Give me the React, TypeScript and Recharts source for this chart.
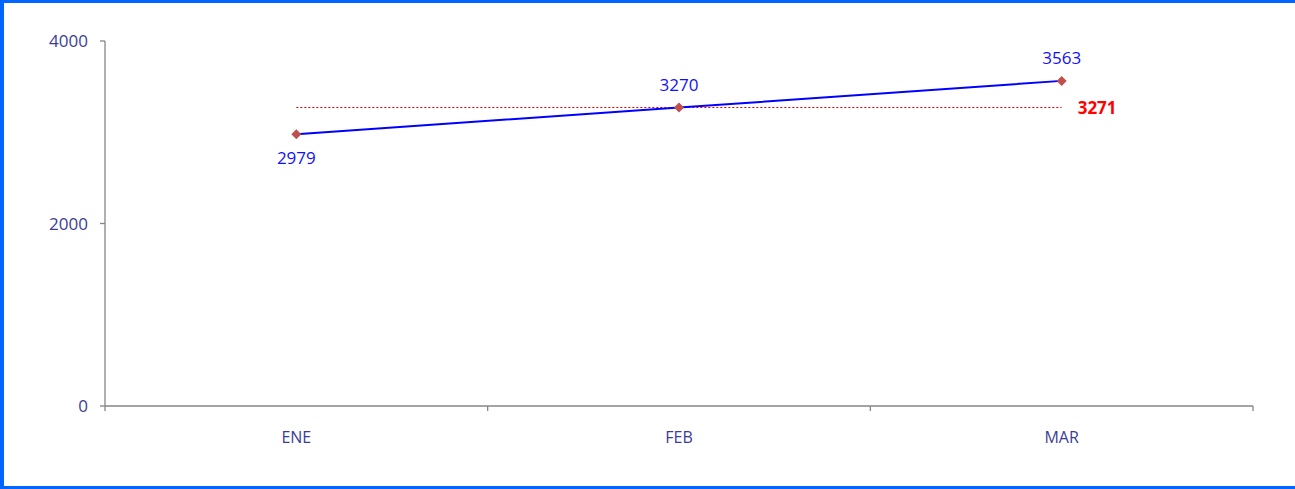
import { LineChart, Line, XAxis, YAxis, ReferenceLine, LabelList } from 'recharts';

const meses = ['ENE', 'FEB', 'MAR'];
const ventas = [2979, 3270, 3563];
const promedio = 3271;
const yTicks = [0, 2000, 4000];

const data = meses.map((m, i) => ({ mes: m, valor: ventas[i] }));

const FONT = '"Open Sans", sans-serif';
const AXIS = '#868686';

function Diamond(props: any) {
  const { cx, cy } = props;
  if (cx == null || cy == null) return null;
  const r = 5;
  return (
    <polygon
      points={`${cx},${cy - r} ${cx + r},${cy} ${cx},${cy + r} ${cx - r},${cy}`}
      fill="#c0504d"
    />
  );
}

function ValueLabel(props: any) {
  const { x, y, value, index } = props;
  const below = index === 0;
  return (
    <text
      x={x}
      y={below ? y + 23 : y - 23}
      textAnchor="middle"
      dominantBaseline="central"
      fill="#1010ff"
      fontSize={17}
      fontFamily={FONT}
    >
      {value}
    </text>
  );
}

// etiqueta de mes centrada + marcas en los limites de cada categoria
function MesTick(props: any) {
  const { x, y, payload, index, visibleTicksCount } = props;
  const half = payload.offset || 0;
  const last = index === visibleTicksCount - 1;
  return (
    <g>
      <line x1={x - half} x2={x - half} y1={y} y2={y + 5} stroke={AXIS} strokeWidth={1.3} />
      {last && <line x1={x + half} x2={x + half} y1={y} y2={y + 5} stroke={AXIS} strokeWidth={1.3} />}
      <text
        x={x}
        y={y + 31}
        textAnchor="middle"
        dominantBaseline="central"
        fill="#3c3c98"
        fontSize={16}
        fontFamily={FONT}
      >
        {payload.value}
      </text>
    </g>
  );
}

export default function App() {
  return (
    <div
      style={{
        position: 'fixed',
        left: 0,
        top: 0,
        width: 1295,
        height: 489,
        boxSizing: 'border-box',
        borderLeft: '4px solid #0066ff',
        borderTop: '3px solid #0066ff',
        borderBottom: '3px solid #0066ff',
        background: '#fff',
      }}
    >
      <LineChart
        width={1291}
        height={483}
        data={data}
        margin={{ top: 38, right: 42, bottom: 0, left: 0 }}
      >
        <XAxis
          dataKey="mes"
          scale="band"
          height={80}
          axisLine={{ stroke: AXIS, strokeWidth: 1.3 }}
          tickLine={false}
          tickSize={0}
          tickMargin={0}
          tick={<MesTick />}
        />
        <YAxis
          width={101}
          domain={[0, 4000]}
          ticks={yTicks}
          tickSize={5}
          tickMargin={12}
          axisLine={{ stroke: AXIS, strokeWidth: 1.3 }}
          tickLine={{ stroke: AXIS, strokeWidth: 1.3 }}
          tick={{ fill: '#3c3c98', fontSize: 17, fontFamily: FONT }}
        />
        <ReferenceLine
          segment={[
            { x: meses[0], y: promedio },
            { x: meses[meses.length - 1], y: promedio },
          ]}
          stroke="#e00000"
          strokeWidth={1}
          strokeDasharray="2 2"
          label={{
            value: promedio,
            position: 'right',
            offset: 16,
            fill: '#ff0000',
            fontWeight: 700,
            fontSize: 17,
            fontFamily: FONT,
          }}
        />
        <Line
          dataKey="valor"
          stroke="#0000ff"
          strokeWidth={2}
          dot={<Diamond />}
          activeDot={false}
          isAnimationActive={false}
        >
          <LabelList dataKey="valor" content={<ValueLabel />} />
        </Line>
      </LineChart>
    </div>
  );
}
